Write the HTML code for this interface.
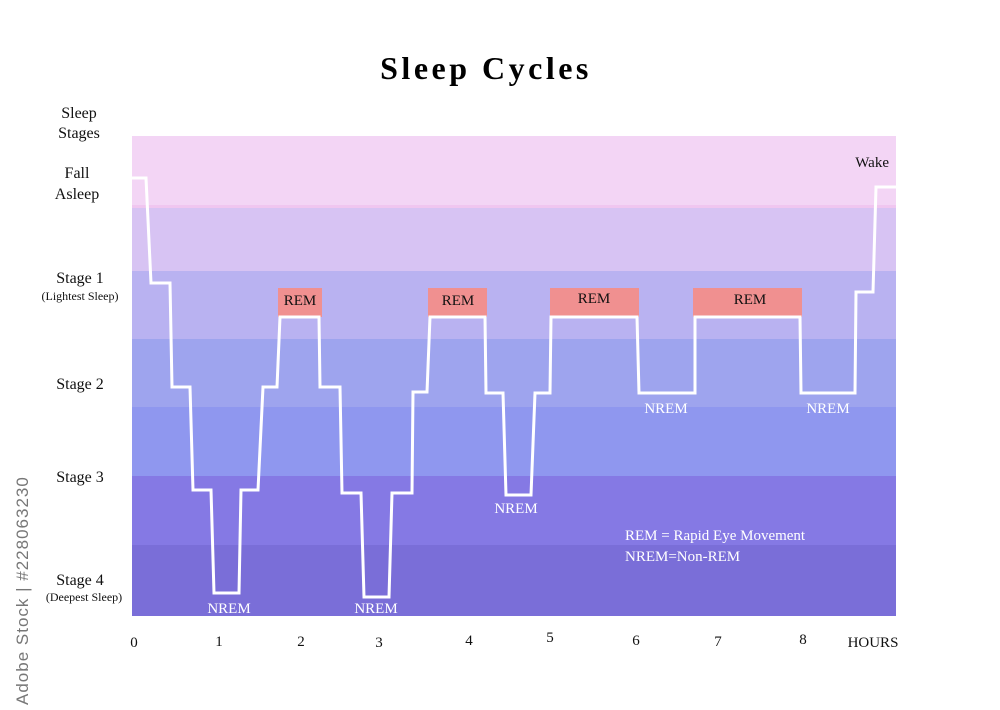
<!DOCTYPE html>
<html><head><meta charset="utf-8"><style>
html,body{margin:0;padding:0;background:#fff;}
svg{display:block;}
text{font-family:"Liberation Serif",serif;}
</style></head><body>
<svg width="1000" height="710" viewBox="0 0 1000 710" xmlns="http://www.w3.org/2000/svg">
<rect x="0" y="0" width="1000" height="710" fill="#fff"/>
<text x="486" y="79" text-anchor="middle" font-size="32" font-weight="bold" letter-spacing="3.5">Sleep Cycles</text>
<rect x="132" y="136" width="764" height="71" fill="#f3d5f5"/>
<rect x="132" y="205" width="764" height="3" fill="#f0c6f0"/>
<rect x="132" y="208" width="764" height="63" fill="#d7c3f3"/>
<rect x="132" y="271" width="764" height="68" fill="#b9b2f1"/>
<rect x="132" y="339" width="764" height="68" fill="#9ea4ee"/>
<rect x="132" y="407" width="764" height="69" fill="#8f97ef"/>
<rect x="132" y="476" width="764" height="69" fill="#8579e4"/>
<rect x="132" y="545" width="764" height="71" fill="#7a6ed8"/>
<g fill="#f09090">
<rect x="278" y="288" width="44" height="29"/>
<rect x="428" y="288" width="59" height="29"/>
<rect x="550" y="288" width="89" height="29"/>
<rect x="693" y="288" width="109" height="29"/>
</g>
<g font-size="15" text-anchor="middle" fill="#111">
<text x="300" y="305">REM</text>
<text x="458" y="305">REM</text>
<text x="594" y="303">REM</text>
<text x="750" y="304">REM</text>
</g>
<polyline fill="none" stroke="#fff" stroke-width="3" stroke-linejoin="miter" points="132,178 146,178 151,283 170,283 172,387 190,387 193,490 211,490 214,593 239,593 241,490 258,490 263,387 277,387 280,317 319,317 320,387 340,387 342,493 361,493 364,597 389,597 392,493 412,493 413,392 427,392 430,317 485,317 486,393 503,393 506,495 531,495 535,393 550,393 551,317 637,317 639,393 695,393 695,317 800,317 801,393 855,393 856,292 873,292 876,187 897,187"/>
<g font-size="15" text-anchor="middle" fill="#fff">
<text x="229" y="613">NREM</text>
<text x="376" y="613">NREM</text>
<text x="516" y="513">NREM</text>
<text x="666" y="413">NREM</text>
<text x="828" y="413">NREM</text>
</g>
<g font-size="15" fill="#fff">
<text x="625" y="540">REM = Rapid Eye Movement</text>
<text x="625" y="561">NREM=Non-REM</text>
</g>
<text x="889" y="167" font-size="15" text-anchor="end" fill="#111">Wake</text>
<g font-size="16" text-anchor="middle" fill="#111">
<text x="79" y="118">Sleep</text>
<text x="79" y="138">Stages</text>
<text x="77" y="178">Fall</text>
<text x="77" y="199">Asleep</text>
<text x="80" y="283">Stage 1</text>
<text x="80" y="389">Stage 2</text>
<text x="80" y="482">Stage 3</text>
<text x="80" y="585">Stage 4</text>
</g>
<g font-size="12" text-anchor="middle" fill="#111">
<text x="80" y="300">(Lightest Sleep)</text>
<text x="84" y="601">(Deepest Sleep)</text>
</g>
<g font-size="15" text-anchor="middle" fill="#111">
<text x="134" y="647">0</text>
<text x="219" y="646">1</text>
<text x="301" y="646">2</text>
<text x="379" y="647">3</text>
<text x="469" y="645">4</text>
<text x="550" y="642">5</text>
<text x="636" y="645">6</text>
<text x="718" y="646">7</text>
<text x="803" y="644">8</text>
<text x="873" y="647">HOURS</text>
</g>
<text transform="translate(28,705) rotate(-90)" font-size="17" fill="#777" letter-spacing="1" style="font-family:'Liberation Sans',sans-serif">Adobe Stock | #228063230</text>
</svg>
</body></html>
